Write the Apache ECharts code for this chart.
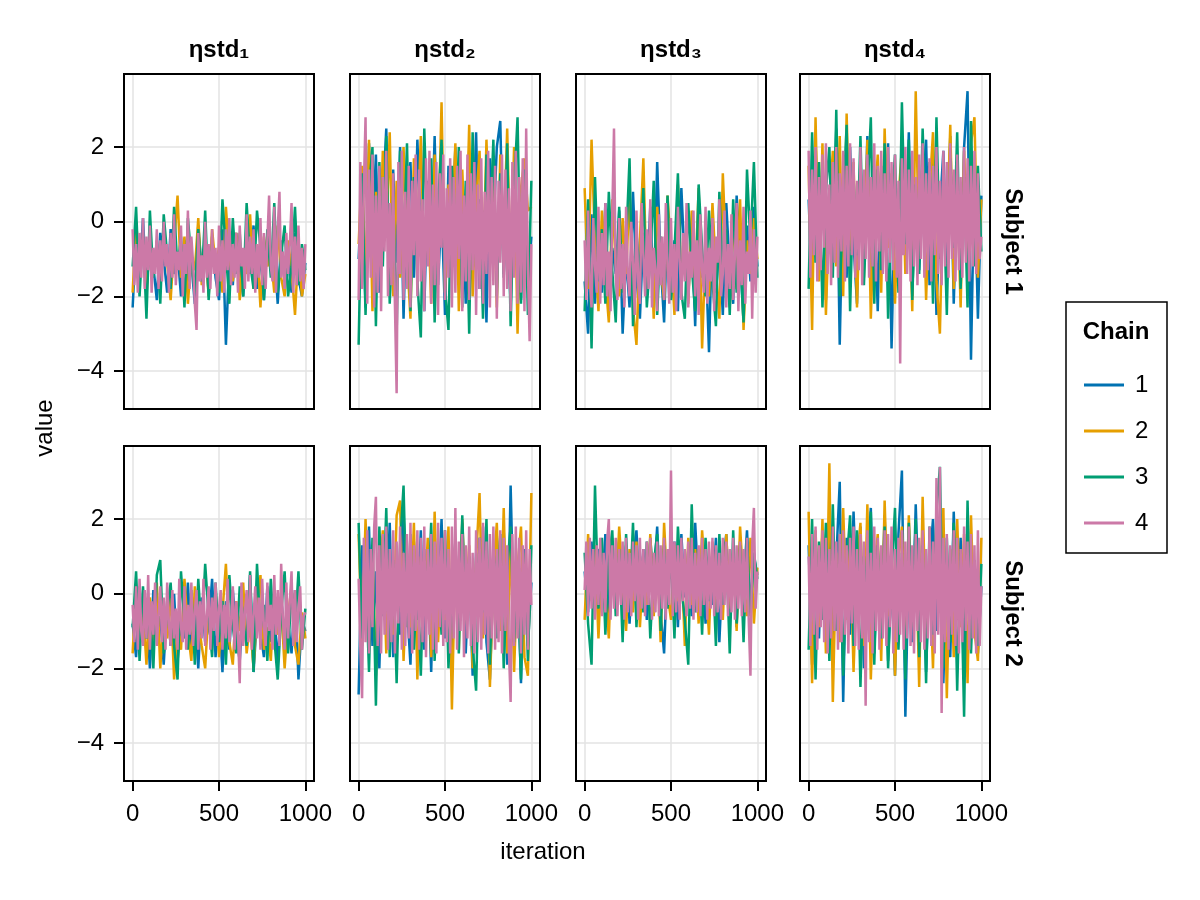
<!DOCTYPE html>
<html>
<head>
<meta charset="utf-8">
<script src="https://cdn.jsdelivr.net/npm/echarts@6/dist/echarts.min.js"></script>
<style>html,body{margin:0;padding:0;background:#fff}#chart{width:1200px;height:900px}</style>
</head>
<body>
<div id="chart"></div>
<script>
// ---------- DATA ----------
const columnTitles = ['ηstd₁', 'ηstd₂', 'ηstd₃', 'ηstd₄'];
const rowTitles = ['Subject 1', 'Subject 2'];
const chainNames = ['1', '2', '3', '4'];
const chainColors = ['#0072B2', '#E69F00', '#009E73', '#CC79A7'];
const xTicks = [0, 500, 1000];
const yTicks = [-4, -2, 0, 2];
// sampled iterations for chains 1-3
const iterations = [0,20,40,60,80,100,120,140,160,180,200,220,240,260,280,300,320,340,360,380,400,420,440,460,480,500,520,540,560,580,600,620,640,660,680,700,720,740,760,780,800,820,840,860,880,900,920,940,960,980,1000];
// sampled iterations for chain 4 (drawn on top, denser)
const iterationsFine = [0,10,20,30,40,50,60,70,80,90,100,110,120,130,140,150,160,170,180,190,200,210,220,230,240,250,260,270,280,290,300,310,320,330,340,350,360,370,380,390,400,410,420,430,440,450,460,470,480,490,500,510,520,530,540,550,560,570,580,590,600,610,620,630,640,650,660,670,680,690,700,710,720,730,740,750,760,770,780,790,800,810,820,830,840,850,860,870,880,890,900,910,920,930,940,950,960,970,980,990,1000];

// Subject 1, ηstd₁
const s1e1c1 = [-2.3,-0.4,-1.5,0.1,-1.8,-0.6,-1.2,-2.1,-0.3,-1.0, -1.9,-0.2,-1.4,-0.8,-2.0,-0.5,-1.6,-1.1,-2.2,-0.1, -1.3,-0.7,-1.9,-0.4,-1.5,-2.1,-0.2,-3.3,-0.9,-1.7, -0.3,-1.2,-2.0,-0.6,-1.4,-0.1,-1.8,-0.9,-2.1,-0.4, -1.3,-0.8,-2.2,-0.5,-1.6,-1.0,-1.9,-0.3,-1.5,-2.0, -1.1];
const s1e1c2 = [-1.9,0.0,-1.2,-0.5,-2.0,-0.3,-1.4,-0.8,-1.8,-0.2, -1.1,-2.1,-0.6,0.7,-1.5,-0.4,-2.2,-0.9,-1.3,0.1, -1.7,-0.5,-2.0,-0.2,-1.2,-0.7,-1.9,0.4,-1.0,-1.6, -0.3,-2.1,-0.8,-1.4,0.2,-1.8,-0.6,-2.3,-0.4,-1.2, -0.9,-1.9,-0.1,-1.5,-2.0,-0.5,-1.3,-2.5,-0.7,-2.0, -1.4];
const s1e1c3 = [-1.2,0.4,-2.0,-0.3,-2.6,0.3,-1.5,-0.5,-2.2,0.2, -0.9,-1.8,0.4,-1.3,-0.4,-2.3,0.1,-1.0,-1.9,-0.2, -1.6,0.3,-2.1,-0.6,-1.2,-1.9,0.6,-0.8,-2.2,0.1, -1.4,-0.3,-2.0,0.5,-1.1,-1.8,0.3,-0.7,-2.1,-0.2, -1.5,0.5,-1.9,-0.9,-0.1,-2.0,-1.2,0.4,-1.7,-0.6, -1.3];
const s1e1c4 = [-0.2,-1.7,-0.6,-1.9,-0.3,-1.5,0.1,-1.8,-0.4,-1.3, -0.1,-1.9,-0.7,-1.4,-0.2,-1.8,-0.5,-1.6,0.0,-1.2, -0.6,-1.9,-0.3,-1.5,0.2,-1.7,-0.8,-1.3,-0.1,-2.0, -0.6,-1.4,0.3,-1.8,-0.4,-1.1,-2.2,-2.9,-0.3,-1.6, -0.9,-1.9,0.0,-1.5,-0.6,-1.8,-0.2,-1.4,-0.7,-2.0, -0.1,-1.6,-0.5,-1.9,-0.2,-1.3,0.1,-1.7,-0.6,-1.5, -0.3,-1.9,-0.1,-1.2,-0.7,-1.8,0.2,-1.6,-0.4,-1.4, -0.2,-1.9,-0.6,-1.5,0.1,-1.7,-0.3,-1.8,-0.5,0.7, -1.2,-1.6,0.4,-1.9,-0.2,0.8,-1.5,-0.8,-1.8,-0.3, -1.4,-0.6,0.5,-1.9,-0.4,-1.7,-0.1,-1.6,-0.7,-1.8, -0.6];

// Subject 1, ηstd₂
const s1e2c1 = [-1.0,1.2,-2.3,2.1,-0.5,1.8,-1.9,0.6,2.5,-2.0, 1.4,-1.1,2.0,-2.6,0.9,1.6,-1.5,2.2,-0.3,-2.4, 1.1,-0.8,2.3,-1.7,0.4,-2.5,1.5,-0.6,2.0,-1.3, 0.8,-2.2,1.9,-0.9,2.4,-1.8,0.3,-2.7,1.7,-0.2, 2.0,2.7,-1.4,0.7,-2.3,1.6,-0.5,-2.1,1.3,-1.6, -0.4];
const s1e2c2 = [-0.6,1.5,-1.8,2.2,-2.4,0.8,-1.2,1.9,-0.3,2.4, -2.0,1.1,-1.5,2.0,-0.9,-2.6,1.7,-0.4,2.3,-1.3, 0.6,-2.2,1.8,-0.7,3.2,-1.9,1.0,-0.2,2.1,-2.4, 1.4,-1.0,2.6,-2.0,0.5,1.9,-1.6,2.2,-0.8,1.3, -2.3,1.8,-0.6,2.5,-1.4,2.0,-3.0,0.9,1.7,0.3, 0.4];
const s1e2c3 = [-3.3,1.3,-2.5,0.9,2.0,-2.8,1.6,-1.2,2.3,-2.2, 0.7,-3.0,1.9,-0.8,2.1,-2.4,1.2,-1.6,-3.1,2.5, -0.5,1.7,-2.7,0.4,2.2,-1.8,-2.9,1.5,-0.7,2.0, -2.3,1.1,-3.0,2.4,-1.2,0.6,-2.6,1.8,-0.3,2.2, -2.0,1.3,-1.5,2.1,-2.8,0.9,2.8,-2.2,1.4,-2.5, 1.1];
const s1e2c4 = [-2.1,1.6,-1.8,0.9,2.8,-2.2,1.4,-1.5,1.8,-2.3, 0.7,-1.9,1.5,-2.4,1.2,-0.8,1.9,-2.0,0.5,-1.7, 1.3,-2.2,-4.6,1.6,-1.4,1.9,-2.1,0.8,-1.8,1.5, -2.3,1.1,-0.9,1.8,-2.0,1.4,-1.6,0.6,-2.4,1.7, -1.2,1.9,-2.2,1.0,-1.7,1.6,-2.5,1.3,-0.7,1.8, -2.1,0.9,-1.5,1.7,-2.3,1.2,-1.9,1.5,-1.0,1.9, -2.4,0.7,-1.6,1.8,-2.1,1.3,-1.3,1.6,-2.5,1.0, -1.8,1.7,-2.2,0.8,-1.4,1.9,-2.3,1.2,-1.7,1.5, -2.6,1.1,-1.1,1.8,-2.0,1.4,-1.8,0.9,-2.4,1.6, -1.5,1.9,-2.2,1.2,-1.9,1.7,-2.4,2.5,-1.3,-3.2, -0.6];

// Subject 1, ηstd₃
const s1e3c1 = [-1.6,-3.0,0.2,-2.2,-0.4,-1.9,0.5,-2.5,-0.7,-1.4, 0.3,-3.0,-0.9,-2.3,0.8,-1.5,-2.6,-0.3,-1.8,0.4, -2.2,1.6,-1.1,-2.7,0.1,-1.7,-0.5,-2.4,0.9,-1.2, -2.0,-0.2,-2.8,0.6,-1.5,-0.8,-3.5,0.2,-1.9,-0.6, -2.5,0.5,-1.3,-2.2,0.7,-0.9,-2.7,-0.1,-1.6,0.4, -1.2];
const s1e3c2 = [0.9,-1.8,2.2,-0.6,-2.4,0.3,-1.5,-2.7,0.6,-1.1, -2.0,0.1,-1.4,0.8,-2.3,-3.3,-0.5,1.7,-1.9,-0.2, -2.6,0.4,-1.2,-2.1,0.7,-0.8,-2.5,1.0,-1.6,-0.4, -2.2,0.3,-1.7,0.9,-3.4,-0.7,-2.0,0.5,-1.3,-2.6, 1.3,-1.0,-2.3,0.2,-1.8,0.6,-2.9,-0.5,-1.4,0.1, -1.0];
const s1e3c3 = [-2.4,0.6,-3.4,1.2,-1.6,-0.2,-2.2,0.8,-1.3,-2.7, 0.4,-1.9,-0.6,1.7,-2.8,-0.3,-1.5,0.9,-2.3,-1.0, 1.1,-2.5,-0.4,-1.7,0.7,-2.1,-0.8,1.3,-1.9,-2.6, 0.5,-1.2,-2.4,1.0,-0.7,-2.0,0.3,-1.6,-2.8,0.8, -1.4,-0.2,-2.5,0.6,-1.9,-0.9,-2.7,1.4,-0.6,1.6, -1.5];
const s1e3c4 = [-0.5,-2.1,0.3,-1.6,-2.3,0.1,-1.2,-1.9,0.4,-2.2, -0.3,-1.7,0.5,-2.0,-0.8,-2.4,0.2,2.5,-1.5,-2.1, 0.1,-1.8,-0.6,-2.3,0.4,-1.4,-2.0,0.0,-1.1,-2.5, 0.3,-1.6,-2.2,0.5,-0.9,-2.0,-0.2,-1.8,0.6,-2.3, -0.7,-1.3,-2.4,0.2,-1.7,-0.4,-2.1,0.5,-1.2,-2.2, 0.1,-1.9,-0.6,-2.4,0.4,-1.0,-2.1,-0.3,-1.6,0.5, -2.3,-0.8,-1.5,0.3,-2.0,-0.5,-2.5,0.2,-1.3,-1.9, 0.4,-2.2,-0.7,-1.6,0.1,-2.4,-0.4,-1.1,0.6,-2.0, -1.4,0.3,-2.3,-0.6,-1.8,0.2,-2.1,-0.9,0.5,-2.4, -0.5,-1.7,0.4,-2.2,-0.8,-1.4,0.3,-2.6,-0.2,-1.9, -0.4];

// Subject 1, ηstd₄
const s1e4c1 = [0.6,-1.9,2.2,-1.2,1.4,-2.1,0.9,-0.8,2.5,-3.3, 1.1,-1.5,2.0,-0.6,-2.2,1.7,-1.0,2.3,-1.8,0.8, -2.4,1.5,-0.4,2.1,-3.4,0.7,-1.6,1.9,-0.9,2.4, -2.0,1.2,-1.3,0.5,2.2,-1.7,1.6,-2.5,0.3,1.9, -1.1,2.3,-2.2,0.9,-1.4,2.0,3.5,-3.7,1.3,-2.6, 0.7];
const s1e4c2 = [1.5,-2.9,2.8,-1.6,2.1,-2.5,0.4,1.9,-1.2,2.3, -2.0,2.9,-0.8,1.6,-2.3,0.9,-1.5,2.2,-2.6,0.3, 1.8,-1.9,2.5,-0.7,1.3,-2.2,0.6,2.0,-1.4,1.1, -2.4,3.5,-1.0,1.7,-2.1,0.8,2.4,-1.6,-3.0,1.2, -0.5,2.6,-1.8,0.9,-2.3,1.9,-1.1,2.1,2.8,-1.5, 0.6];
const s1e4c3 = [-1.8,2.4,-1.1,1.6,-2.3,0.8,2.0,-1.5,3.0,-2.0, 0.5,2.6,-2.4,1.2,-0.9,2.3,-1.7,0.7,2.8,-2.2, 1.4,-1.3,2.1,-2.6,0.4,1.8,-1.9,3.2,-0.6,2.2, -2.1,1.0,-1.4,2.5,-0.3,1.6,-2.2,2.8,-1.0,0.9, -2.5,1.7,-0.7,2.4,-1.8,1.2,-2.3,2.7,-1.2,1.5, -0.8];
const s1e4c4 = [1.9,-1.5,1.4,-0.9,2.0,-1.6,1.2,-1.3,1.8,-0.7, 2.1,-1.4,1.0,-1.7,1.6,-1.1,2.0,-1.5,1.3,-0.8, 1.9,-1.6,1.5,-1.2,2.1,-0.9,1.7,-1.5,1.1,-1.3, 2.0,-1.7,1.4,-1.0,1.8,-1.5,1.2,-1.2,2.1,-1.6, 1.5,-0.8,1.9,-1.4,1.3,-1.6,2.0,-1.1,1.6,-1.3, 1.8,-1.5,1.1,-3.8,1.7,-0.9,2.0,-1.4,1.4,-1.6, 1.9,-1.2,1.2,-1.7,1.8,-1.0,2.1,-1.5,1.3,-1.3, 1.7,-1.6,1.5,-0.9,2.0,-1.4,1.1,-1.7,1.9,-1.2, 1.6,-1.5,2.1,-1.0,1.4,-1.6,1.8,-1.3,1.2,-1.5, 2.0,-1.1,1.7,-1.6,1.5,-1.2,1.9,-1.4,1.3,-1.0, -0.4];

// Subject 2, ηstd₁
const s2e1c1 = [-0.8,-1.7,0.2,-1.3,-0.3,-2.0,0.1,-1.1,-0.6,-1.9, -0.2,-1.4,0.0,-1.8,-0.7,-1.2,0.3,-1.6,-0.4,-2.0, -0.1,-1.3,-0.9,0.4,-1.7,-0.5,-2.1,-0.2,-1.5,0.1, -1.1,-1.8,-0.3,-1.4,0.5,-2.1,-0.6,-1.0,-1.7,0.2, -1.3,-0.5,-1.9,-0.1,-1.2,-0.8,-1.6,0.1,-2.3,-0.7, -1.0];
const s2e1c2 = [-1.6,0.2,-1.1,-0.4,-1.9,-0.1,-1.4,0.3,-2.0,-0.6, -1.2,0.0,-2.3,-0.9,-1.5,0.4,-1.0,-1.8,0.2,-0.7, -1.4,-2.0,-0.3,-1.1,0.1,-1.7,-0.5,0.8,-1.3,-1.9, -0.2,-1.0,0.3,-1.6,-0.8,-2.0,-0.4,0.5,-1.5,-0.9, -1.8,0.1,-1.1,-0.3,-2.0,-0.6,0.2,-1.4,-1.9,-0.5, -1.2];
const s2e1c3 = [-0.9,0.6,-1.8,0.2,-1.2,-0.4,-2.0,0.5,0.9,-1.6, -0.5,0.3,-1.4,-2.3,0.6,-0.8,-1.5,0.1,-1.9,0.4, -1.1,0.8,-0.6,-1.7,0.3,-1.3,-0.2,-1.9,0.5,-0.9, -1.6,0.2,-0.7,-1.4,0.6,-2.1,0.8,-1.0,-0.3,-1.8, 0.4,-1.2,-2.3,-0.5,0.6,-1.6,0.1,-1.0,0.6,-1.5, -0.4];
const s2e1c4 = [-0.3,-1.3,0.2,-1.5,0.4,-1.0,-1.4,0.1,-1.2,0.5, -1.5,-0.2,-1.1,0.3,-1.4,-0.6,0.2,-1.3,-0.1,-1.5, 0.3,-0.8,-1.4,0.1,-1.2,-0.4,-1.5,0.4,-0.9,-1.3, 0.2,-1.5,-0.3,-1.1,0.3,-1.4,-0.5,0.1,-1.5,-0.2, -1.2,0.4,-1.4,-0.6,0.2,-1.5,-0.1,-1.0,0.3,-1.4, -0.4,0.1,-1.5,-0.3,-1.2,0.4,-1.3,-0.7,0.2,-1.5, -0.2,-1.1,-2.4,0.3,-1.4,-0.5,0.1,-1.3,0.5,-1.5, -0.6,0.2,-1.2,-0.1,-1.5,0.4,-0.9,-1.4,0.3,-1.0, -0.3,-1.5,0.5,-1.1,0.1,-1.4,0.8,-0.7,-1.5,0.3, -1.2,-0.2,0.6,-1.4,0.1,-1.3,-0.4,0.2,-1.5,-0.6, -0.5];

// Subject 2, ηstd₂
const s2e2c1 = [-2.7,1.3,-0.9,1.8,-1.4,0.6,-2.0,1.5,-0.5,1.9, -1.7,0.8,-1.1,2.2,-0.3,-1.9,1.4,-0.7,1.7,-1.5, 0.9,-2.1,1.6,-0.4,2.0,-1.2,0.5,-1.8,1.3,-0.8, 1.9,-1.6,0.7,-2.2,1.1,-0.6,1.8,-1.3,-2.3,0.4, 1.5,-0.9,1.7,-1.9,2.9,-1.0,0.6,-2.4,1.2,-1.4, 0.3];
const s2e2c2 = [1.6,-1.4,2.0,-0.8,1.2,-2.2,0.4,1.7,-1.6,0.9, -1.1,2.1,2.5,-1.8,0.6,-0.9,1.9,-2.3,1.0,-0.5, 1.5,-1.7,2.2,-1.3,0.8,-0.7,1.8,-3.1,1.1,-1.5, 2.0,-0.4,1.3,-2.0,0.9,2.7,-1.2,1.6,-2.5,0.5, 1.9,-1.0,2.3,-1.6,1.4,-2.1,0.7,1.8,-1.7,-2.2, 2.7];
const s2e2c3 = [1.9,-1.2,0.7,-2.1,1.5,-3.0,1.8,-0.6,2.3,-1.7, 0.9,-2.4,1.3,2.9,-0.9,1.6,-1.5,0.5,-2.2,1.2, -0.4,1.9,-1.8,0.8,-1.1,1.7,-2.0,0.3,1.4,-1.6, 2.1,-0.8,1.0,-1.4,-2.6,1.5,-0.5,2.0,-1.9,0.9, -1.2,1.6,-2.0,0.7,1.8,-1.3,0.4,-2.3,1.1,-1.8, 1.3];
const s2e2c4 = [0.4,-1.5,-2.8,1.5,-1.3,1.7,-1.6,1.2,-0.9,1.8, 2.6,-1.4,1.3,-1.6,1.6,-1.1,1.8,-1.5,1.2,-1.3, 1.7,-1.6,1.4,-0.8,1.8,-1.5,1.1,-1.4,1.6,-1.2, 1.9,-1.6,1.3,-1.0,1.7,-1.5,1.5,-1.3,1.8,-1.7, 1.2,-1.1,1.6,-1.5,1.4,-1.6,1.9,-0.9,1.5,-1.4, 1.7,-1.3,1.2,-1.6,1.8,-1.2,2.3,-1.5,1.4,-1.0, 1.6,-1.7,1.3,-1.2,1.8,-1.4,1.1,-1.6,1.7,-1.3, 1.5,-1.5,1.9,-1.1,1.4,-1.6,1.6,-1.2,1.8,-1.5, 1.2,-1.3,1.7,-1.6,1.5,-1.0,1.3,-1.5,-2.9,1.6, -1.4,1.8,-1.2,1.5,-1.6,1.3,-1.1,1.7,-1.5,1.2, -0.3];

// Subject 2, ηstd₃
const s2e3c1 = [0.6,-0.5,1.4,-0.3,1.2,0.0,1.6,-0.6,1.1,0.2, 1.5,-0.4,1.3,-0.8,0.9,1.7,-0.2,1.2,-0.7,1.5, 0.3,1.8,-0.5,-1.6,1.0,0.4,1.4,-0.9,1.6,-0.1, 1.2,-0.6,1.9,0.1,1.3,-0.8,1.0,-0.3,1.5,-1.3, 0.8,1.6,-0.5,1.1,-0.9,1.4,0.2,1.7,-0.4,1.0, 0.5];
const s2e3c2 = [-0.7,1.6,-0.2,1.3,-1.2,1.0,0.2,-1.2,1.5,-0.4, 1.8,0.3,-1.0,1.2,-0.5,1.4,-0.9,0.8,-0.3,1.6, -0.6,1.1,-1.3,1.9,0.0,-0.7,1.3,-0.2,1.0,-1.4, 1.5,-0.3,1.2,-0.8,1.7,0.4,-1.1,1.4,-0.5,0.9, -0.7,1.6,-0.4,1.2,-1.0,1.8,0.2,-0.6,1.5,-0.8, 0.7];
const s2e3c3 = [1.1,-0.8,-1.9,2.9,-0.4,1.5,-1.1,0.9,1.7,-0.6, 1.2,-1.3,1.6,-0.3,1.9,-0.9,1.0,-0.5,1.4,-1.2, 0.8,1.6,-1.0,1.3,-0.4,1.1,-1.2,1.8,0.2,-0.7, -1.9,2.4,-0.5,1.2,-1.1,1.5,-0.2,0.9,-1.4,1.6, -0.3,1.2,-1.6,1.7,-0.8,1.3,-1.3,1.5,-0.6,1.1, 0.4];
const s2e3c4 = [0.1,1.4,-0.6,1.5,-0.4,1.2,-0.7,1.3,-0.3,1.5, -0.6,1.1,-0.5,1.4,2.0,-0.7,1.3,-0.4,1.5,-0.6, 1.2,-0.3,1.4,-0.7,1.5,-0.5,1.1,-0.6,1.4,-0.2, 1.3,-0.7,1.5,-0.4,1.2,-0.6,1.4,-0.3,1.5,-0.7, 1.1,-0.5,1.4,-0.6,1.3,-0.4,1.5,-0.7,1.2,-0.3, 3.3,-0.6,1.4,-0.5,1.3,-0.7,1.5,-0.2,1.2,-0.6, 1.4,-0.4,1.5,-0.7,1.1,-0.5,1.3,-0.6,1.5,-0.3, 1.2,-0.7,1.4,-0.4,1.5,-0.6,1.3,-0.5,1.1,-0.7, 1.5,-0.3,1.4,-0.6,1.2,-0.5,1.5,-0.7,1.3,-0.4, 1.4,-0.6,1.2,-0.5,1.5,-0.7,-2.2,1.3,2.3,-0.4, 0.6];

// Subject 2, ηstd₄
const s2e4c1 = [1.3,-1.9,0.6,-1.2,1.7,-0.8,2.0,-1.5,0.9,3.0, -2.9,1.5,-1.1,2.2,-0.4,1.8,-2.0,0.7,2.3,-1.6, 1.2,-0.9,2.1,-1.8,0.5,-2.2,1.6,3.3,-3.3,1.0, -1.3,2.4,-0.6,1.7,-2.1,0.8,2.0,-1.0,1.4,-2.4, 0.9,-1.7,2.2,-0.7,1.5,-2.0,1.9,-1.2,0.6,-1.6, 0.2];
const s2e4c2 = [2.2,-2.4,1.7,-0.9,2.0,-1.6,3.5,-2.9,1.1,-1.3, 2.3,-0.7,1.5,-2.1,0.8,1.9,-1.4,2.4,-2.3,0.6, 1.6,-1.8,2.5,-0.6,1.3,-2.2,0.9,1.8,-1.5,2.1, -0.8,1.4,-2.5,2.6,-1.1,0.7,-2.0,1.9,-0.4,2.3, -2.8,1.2,-1.7,2.0,-0.9,1.6,-2.4,2.1,-1.0,-1.8, 1.5];
const s2e4c3 = [-1.5,2.0,-2.3,1.4,-0.7,1.9,-1.8,2.4,-1.0,1.6, -2.2,0.8,2.1,-1.4,1.7,-2.5,1.0,-0.6,2.2,-1.9, 1.3,-1.2,1.8,-2.0,0.6,2.3,-1.5,1.1,-2.3,1.9, -0.9,2.0,-1.7,1.3,-2.4,1.8,-1.1,2.2,3.4,-2.0, 1.5,-1.3,1.9,-2.6,1.1,-3.3,2.5,-1.6,0.9,-1.4, 0.8];
const s2e4c4 = [1.0,-1.4,1.6,-1.1,1.8,-1.5,1.3,-0.9,1.7,-1.3, 1.5,-1.6,1.2,-1.2,1.8,-1.0,1.4,-1.5,1.6,-1.3, 1.7,-1.1,1.3,-1.6,1.5,-0.8,1.8,-1.4,1.2,-1.5, 1.6,-1.2,1.4,-3.0,1.7,-1.3,1.1,-1.6,1.8,-1.0, 1.5,-1.5,1.3,-1.2,1.7,-1.4,1.6,-0.9,1.8,-1.6, 1.2,-1.3,1.5,-1.1,1.7,-1.5,1.4,-1.2,1.8,-1.4, 1.3,-1.6,1.6,-1.0,1.5,-1.3,1.7,-1.5,1.2,-1.2, 1.8,-1.4,1.4,-1.6,3.1,-1.1,3.4,-3.2,1.5,-1.3, 1.6,-1.5,1.3,-1.1,1.7,-1.4,1.5,-1.6,1.2,-1.3, 1.8,-1.0,1.4,-1.5,1.6,-1.2,1.3,-1.6,1.7,-1.4, 0.2];

const panelData = [
  [[s1e1c1,s1e1c2,s1e1c3,s1e1c4],[s1e2c1,s1e2c2,s1e2c3,s1e2c4],[s1e3c1,s1e3c2,s1e3c3,s1e3c4],[s1e4c1,s1e4c2,s1e4c3,s1e4c4]],
  [[s2e1c1,s2e1c2,s2e1c3,s2e1c4],[s2e2c1,s2e2c2,s2e2c3,s2e2c4],[s2e3c1,s2e3c2,s2e3c3,s2e3c4],[s2e4c1,s2e4c2,s2e4c3,s2e4c4]]
];

// ---------- LAYOUT ----------
const FONT = "'Liberation Sans', Arial, Helvetica, sans-serif";
const colLeft = [124, 350, 576, 800];
const rowTop = [74, 446];
const PW = 190, PH = 335;
const minus = v => String(v).replace('-', '\u2212');

const grids = [], xAxes = [], yAxes = [], series = [], graphics = [];
let idx = 0;
for (let r = 0; r < 2; r++) {
  for (let c = 0; c < 4; c++) {
    grids.push({ left: colLeft[c], top: rowTop[r], width: PW, height: PH, show: false, containLabel: false });
    const bottomRow = r === 1;
    const firstCol = c === 0;
    xAxes.push({
      type: 'value', gridIndex: idx, min: -50, max: 1050, position: 'bottom',
      axisLine: { show: false, onZero: false },
      axisTick: { show: bottomRow, customValues: xTicks, length: 10, lineStyle: { color: '#000', width: 2 } },
      axisLabel: { show: bottomRow, customValues: xTicks, fontSize: 24, color: '#000', fontFamily: FONT, margin: 21, formatter: minus },
      splitLine: { show: true, lineStyle: { color: '#e3e3e3', width: 1.5 } }
    });
    yAxes.push({
      type: 'value', gridIndex: idx, min: -5.02, max: 3.96, position: 'left',
      axisLine: { show: false, onZero: false },
      axisTick: { show: firstCol, customValues: yTicks, length: 10, lineStyle: { color: '#000', width: 2 } },
      axisLabel: { show: firstCol, customValues: yTicks, fontSize: 24, color: '#000', fontFamily: FONT, margin: 20, formatter: minus },
      splitLine: { show: true, lineStyle: { color: '#e3e3e3', width: 1.5 } }
    });
    const chains = panelData[r][c];
    for (let k = 0; k < 4; k++) {
      const xs = k === 3 ? iterationsFine : iterations;
      series.push({
        type: 'line', name: chainNames[k], xAxisIndex: idx, yAxisIndex: idx,
        data: xs.map((it, i) => [it, chains[k][i]]),
        showSymbol: false, symbol: 'none', clip: true,
        lineStyle: { width: 2.5, color: chainColors[k] },
        itemStyle: { color: chainColors[k] },
        z: 2 + k, animation: false
      });
    }
    graphics.push({ type: 'rect', shape: { x: colLeft[c], y: rowTop[r], width: PW, height: PH },
      style: { fill: 'none', stroke: '#000', lineWidth: 2 }, z: 100, silent: true });
    idx++;
  }
}

columnTitles.forEach((t, c) => graphics.push({
  type: 'text', x: colLeft[c] + PW / 2, y: 50, z: 100,
  style: { text: t, fontSize: 24, fontWeight: 'bold', fontFamily: FONT, fill: '#000', textAlign: 'center', textVerticalAlign: 'middle' }
}));
rowTitles.forEach((t, r) => graphics.push({
  type: 'text', x: 1013, y: rowTop[r] + PH / 2, rotation: -Math.PI / 2, z: 100,
  style: { text: t, fontSize: 24, fontWeight: 'bold', fontFamily: FONT, fill: '#000', textAlign: 'center', textVerticalAlign: 'middle' }
}));
graphics.push({ type: 'text', x: 45, y: 428, rotation: Math.PI / 2, z: 100,
  style: { text: 'value', fontSize: 24, fontFamily: FONT, fill: '#000', textAlign: 'center', textVerticalAlign: 'middle' } });
graphics.push({ type: 'text', x: 543, y: 852, z: 100,
  style: { text: 'iteration', fontSize: 24, fontFamily: FONT, fill: '#000', textAlign: 'center', textVerticalAlign: 'middle' } });
// legend box + title
graphics.push({ type: 'rect', shape: { x: 1066, y: 302, width: 101, height: 251 },
  style: { fill: '#fff', stroke: '#000', lineWidth: 1.5 }, z: -1, silent: true });
graphics.push({ type: 'text', x: 1116, y: 332, z: 100,
  style: { text: 'Chain', fontSize: 24, fontWeight: 'bold', fontFamily: FONT, fill: '#000', textAlign: 'center', textVerticalAlign: 'middle' } });

const chart = echarts.init(document.getElementById('chart'), null, { renderer: 'canvas' });
chart.setOption({
  backgroundColor: '#fff',
  animation: false,
  grid: grids, xAxis: xAxes, yAxis: yAxes, series: series,
  legend: {
    data: chainNames, orient: 'vertical', left: 1079, top: 368,
    icon: 'rect', itemWidth: 40, itemHeight: 3, itemGap: 22,
    textStyle: { fontSize: 24, color: '#000', fontFamily: FONT, padding: [0, 0, 0, 6] },
    selectedMode: false
  },
  graphic: graphics
});
</script>
</body>
</html>
